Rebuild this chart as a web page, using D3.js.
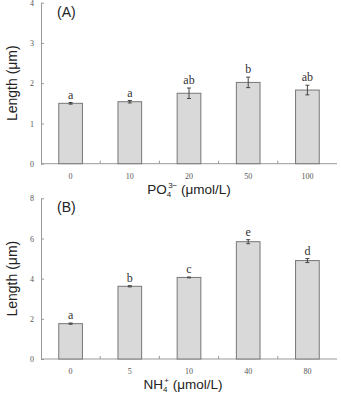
<!DOCTYPE html>
<html>
<head>
<meta charset="utf-8">
<script src="https://cdn.jsdelivr.net/npm/d3@7"></script>
<style>
body { margin: 0; background: #fff; }
.tick text { font-family: "Liberation Serif", "Times New Roman", serif; font-size: 8px; fill: #555; }
.domain, .tick line { stroke: #999; }
.letter { font-family: "Liberation Serif", serif; font-size: 12px; fill: #333; }
.title { font-family: "Liberation Sans", Arial, sans-serif; font-size: 14px; fill: #222; }
</style>
</head>
<body>
<svg id="chart" width="341" height="393"></svg>
<script>
const phosLevels = ["0", "10", "20", "50", "100"];
const phosMean = [1.50, 1.54, 1.75, 2.02, 1.83];
const phosErr = [0.02, 0.03, 0.13, 0.13, 0.12];
const phosLetters = ["a", "a", "ab", "b", "ab"];

const ammLevels = ["0", "5", "10", "40", "80"];
const ammMean = [1.76, 3.62, 4.06, 5.84, 4.90];
const ammErr = [0.03, 0.03, 0.02, 0.10, 0.10];
const ammLetters = ["a", "b", "c", "e", "d"];

const svg = d3.select("#chart");

function panel(opts) {
    const g = svg.append("g");
    const x = d3.scaleBand().domain(opts.levels).range([41, 337]).paddingInner(0).paddingOuter(0);
    const y = d3.scaleLinear().domain([0, opts.max]).range([opts.bottom, opts.top]);
    const data = opts.levels.map((l, i) => ({l: l, m: opts.mean[i], e: opts.err[i], t: opts.letters[i]}));
    const bw = x.bandwidth() * 0.4;

    g.append("g")
        .attr("transform", "translate(41,0)")
        .call(d3.axisLeft(y).ticks(opts.max / opts.step).tickSizeInner(-3).tickSizeOuter(0).tickPadding(6))
        .call(a => a.selectAll(".tick text").attr("dx", -1));

    // x axis: ticks at band boundaries
    g.append("line").attr("x1", 41).attr("x2", 337)
        .attr("y1", opts.bottom).attr("y2", opts.bottom).attr("stroke", "#999");
    g.selectAll(".xt").data(opts.levels.slice(1)).enter().append("line")
        .attr("x1", d => x(d)).attr("x2", d => x(d))
        .attr("y1", opts.bottom).attr("y2", opts.bottom - 3).attr("stroke", "#999");
    g.selectAll(".xl").data(opts.levels).enter().append("text")
        .attr("x", d => x(d) + x.bandwidth() / 2)
        .attr("y", opts.bottom + 15)
        .attr("text-anchor", "middle")
        .style("font-family", "Liberation Serif, serif").style("font-size", "8px").style("fill", "#555")
        .text(d => d);

    g.selectAll(".bar").data(data).enter().append("rect")
        .attr("x", d => x(d.l) + x.bandwidth() / 2 - bw / 2)
        .attr("width", bw)
        .attr("y", d => y(d.m))
        .attr("height", d => opts.bottom - y(d.m))
        .attr("fill", "#d9d9d9").attr("stroke", "#777").attr("stroke-width", 1);

    const eb = g.selectAll(".err").data(data).enter().append("g")
        .attr("transform", d => `translate(${x(d.l) + x.bandwidth() / 2},0)`);
    eb.append("line").attr("y1", d => y(d.m - d.e)).attr("y2", d => y(d.m + d.e)).attr("stroke", "#444");
    eb.append("line").attr("x1", -2).attr("x2", 2).attr("y1", d => y(d.m - d.e)).attr("y2", d => y(d.m - d.e)).attr("stroke", "#444");
    eb.append("line").attr("x1", -2).attr("x2", 2).attr("y1", d => y(d.m + d.e)).attr("y2", d => y(d.m + d.e)).attr("stroke", "#444");
    eb.append("text").attr("class", "letter").attr("text-anchor", "middle")
        .attr("y", d => y(d.m + d.e) - 4)
        .text(d => d.t);

    g.append("text").attr("class", "title")
        .attr("x", 57).attr("y", opts.top + 14)
        .text(opts.tag);

    g.append("text").attr("class", "title")
        .attr("transform", `translate(17,${(opts.top + opts.bottom) / 2}) rotate(-90)`)
        .attr("text-anchor", "middle")
        .text("Length (\u03bcm)");

    const xt = g.append("text").attr("class", "title")
        .style("font-size", "13.5px")
        .attr("x", opts.xtitleX).attr("y", opts.bottom + 30)
        .attr("text-anchor", "middle");
    xt.append("tspan").text(opts.ion);
    xt.append("tspan").attr("dy", 3).style("font-size", "8px").text(opts.sub);
    xt.append("tspan").attr("dy", -9).attr("dx", -3).style("font-size", "8px").text(opts.sup);
    xt.append("tspan").attr("dy", 6).text(" (\u03bcmol/L)");
}

panel({levels: phosLevels, mean: phosMean, err: phosErr, letters: phosLetters,
    max: 4, step: 1, top: 2.7, bottom: 163.7, tag: "(A)",
    ion: "PO", sub: "4", sup: "3\u2212", xtitleX: 189});
panel({levels: ammLevels, mean: ammMean, err: ammErr, letters: ammLetters,
    max: 8, step: 2, top: 198.3, bottom: 359, tag: "(B)",
    ion: "NH", sub: "4", sup: "+", xtitleX: 183});
</script>
</body>
</html>
